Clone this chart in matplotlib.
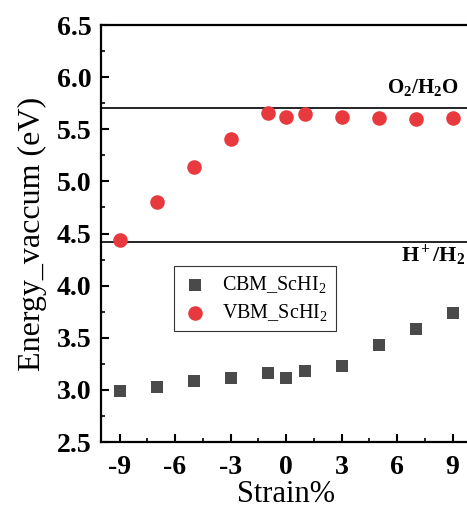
import matplotlib
matplotlib.use("Agg")
import matplotlib.pyplot as plt
from matplotlib.ticker import MultipleLocator

plt.rcParams['font.family'] = ['Liberation Serif', 'DejaVu Serif']
plt.rcParams['mathtext.fontset'] = 'custom'
plt.rcParams['mathtext.rm'] = 'Liberation Serif'
plt.rcParams['mathtext.it'] = 'Liberation Serif:italic'
plt.rcParams['mathtext.bf'] = 'Liberation Serif:bold'
plt.rcParams['axes.unicode_minus'] = False

# strain (%) and band edge energies vs vacuum (eV)
strain = [-9, -7, -5, -3, -1, 0, 1, 3, 5, 7, 9]
cbm = [2.99, 3.03, 3.09, 3.11, 3.16, 3.11, 3.18, 3.23, 3.43, 3.58, 3.74]
vbm = [4.44, 4.80, 5.14, 5.41, 5.66, 5.62, 5.65, 5.62, 5.61, 5.60, 5.61]

# redox potentials
e_o2 = 5.70
e_h2 = 4.42

fig = plt.figure(figsize=(4.67, 5.11), dpi=100)
ax = fig.add_axes([0.2163, 0.135, 0.7923, 0.816])

ax.axhline(e_o2, color='black', lw=1.2, zorder=1)
ax.axhline(e_h2, color='black', lw=1.2, zorder=1)

ax.scatter(strain, cbm, marker='s', s=64, color='#4a4a4a', lw=0,
           label='CBM_ScHI$_2$', zorder=3)
ax.scatter(strain, vbm, marker='o', s=110, color='#e8393e', lw=0,
           label='VBM_ScHI$_2$', zorder=3)

ax.text(9.3, e_o2 + 0.1, r'$\mathbf{O_2/H_2O}$', fontsize=15,
        ha='right', va='bottom')
ax.text(9.65, e_h2 - 0.25, r'$\mathbf{H^+/H_2}$', fontsize=16,
        ha='right', va='bottom')

ax.set_xlim(-10, 10)
ax.set_ylim(2.5, 6.5)
ax.xaxis.set_major_locator(MultipleLocator(3))
ax.xaxis.set_minor_locator(MultipleLocator(1.5))
ax.yaxis.set_major_locator(MultipleLocator(0.5))
ax.yaxis.set_minor_locator(MultipleLocator(0.25))
ax.tick_params(which='major', direction='in', length=6, width=1.5,
               labelsize=20, top=False, right=False, pad=7)
ax.tick_params(axis='x', which='major', pad=9)
ax.tick_params(which='minor', direction='in', length=3, width=1.2,
               top=False, right=False)
for lab in ax.get_xticklabels() + ax.get_yticklabels():
    lab.set_fontweight('bold')
for sp in ax.spines.values():
    sp.set_linewidth(1.6)

ax.set_xlabel('Strain%', fontsize=22, labelpad=0)
ax.set_ylabel('Energy_vaccum (eV)', fontsize=23, labelpad=7)

leg = ax.legend(loc='upper left', bbox_to_anchor=(0.197, 0.422),
                borderaxespad=0, fontsize=14.5,
                frameon=True, fancybox=False, edgecolor='black',
                handletextpad=0.7, borderpad=0.4, labelspacing=0.35,
                handlelength=1.3)
leg.get_frame().set_linewidth(0.8)

fig.savefig('out.png', dpi=100)
